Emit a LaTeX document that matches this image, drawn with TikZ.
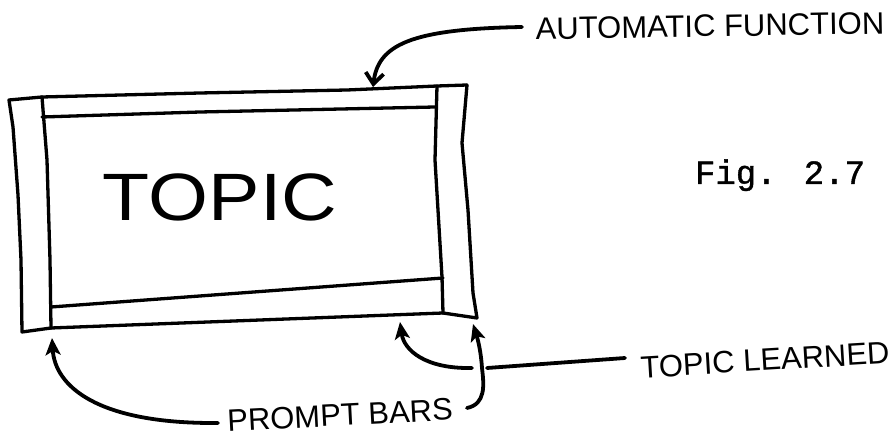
\documentclass[tikz,border=0pt]{standalone}
\usepackage{fontspec}
\usepackage{graphicx}
\setmainfont{Liberation Sans}
\newfontfamily\typewriter[FakeBold=1.2]{Liberation Mono}
\usetikzlibrary{arrows.meta}
\begin{document}
\begin{tikzpicture}[x=1pt,y=-1pt,
  pen/.style={line width=3.3pt,line cap=round,line join=round},
  lead/.style={line width=3.8pt,line cap=round,line join=round},
  hand/.style={font=\fontsize{31}{31}\selectfont,inner sep=0pt},
  solidtip/.style={-{Stealth[length=17pt,width=15pt,inset=4pt]}},
  opentip/.style={-{Straight Barb[length=11pt,width=18pt]}},
]
\useasboundingbox (0,0) rectangle (892,438);

% left prompt bar
\draw[pen] (42,97) -- (9,100) -- (13,127) -- (18,195) -- (21,260) -- (22,332) -- (51,328);
\draw[pen] (42,97) -- (47,160) -- (50,260) -- (51,328);
% top band
\draw[pen] (42,97) -- (200,93) -- (347,90) -- (437,86) -- (467,85);
\draw[pen] (42,117) -- (200,112) -- (435,107);
% right prompt bar
\draw[pen] (467,85) -- (462,143) -- (468,210) -- (473,293) -- (477,318) -- (443,313);
\draw[pen] (437,86) -- (435,160) -- (442,277) -- (443,313);
% bottom band
\draw[pen] (51,307) -- (443,278);
\draw[pen] (51,328) -- (443,313);

% texts
\node[font=\fontsize{67}{67}\selectfont,inner sep=0pt] (topic) at (220,197.5) {\scalebox{1.15}[1]{TOPIC}};
\node[font=\typewriter\fontsize{34}{34}\selectfont,anchor=base,inner sep=0pt] (fig) at (780,184) {Fig. 2.7};
\node[hand,rotate=1] (af) at (710,26) {AUTOMATIC FUNCTION};
\node[hand,rotate=3.5] (tl) at (765,360) {TOPIC LEARNED};
\node[hand,rotate=3] (pb) at (340,415) {PROMPT BARS};

% ends of the leader lines
\coordinate (af-lead) at (522,27);
\coordinate (af-tip) at (373,87);
\coordinate (tl-lead) at (625,358);
\coordinate (tl-gap-r) at (487,368);
\coordinate (tl-gap-l) at (472,368);
\coordinate (tl-tip) at (400,322);
\coordinate (pb-lead-l) at (218,423);
\coordinate (pb-tip-l) at (52,338);
\coordinate (pb-lead-r) at (467,408);
\coordinate (pb-tip-r) at (473,324);

% leaders
\draw[lead,opentip] (af-lead) .. controls (410,29) and (378,45) .. (af-tip);
\draw[lead] (tl-lead) -- (tl-gap-r);
\draw[lead,solidtip] (tl-gap-l) .. controls (425,369) and (404,350) .. (tl-tip);
\draw[lead,solidtip] (pb-lead-l) .. controls (95,424) and (55,385) .. (pb-tip-l);
\draw[lead,solidtip] (pb-lead-r) .. controls (486,404) and (484,385) .. (482,368)
  .. controls (481,352) and (478,340) .. (pb-tip-r);
\end{tikzpicture}
\end{document}
